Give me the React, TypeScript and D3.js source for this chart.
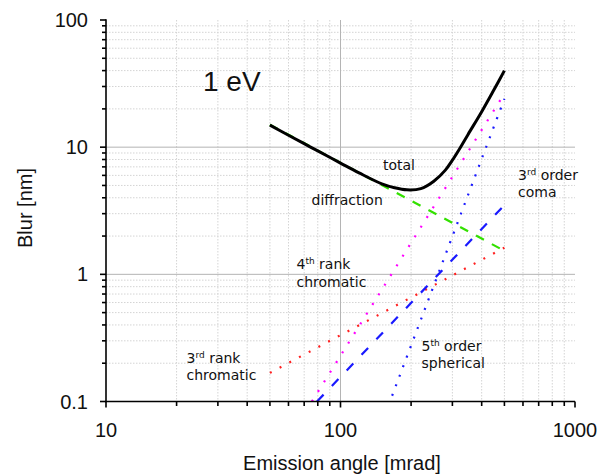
import React from "react";
import * as d3 from "d3";

// ---- data ----
const totalAngle = [50, 60, 70, 80, 100, 120, 150, 170, 192, 220, 250, 280, 300, 325, 350, 400, 450, 500];
const totalBlur = [14.9, 12.4, 10.65, 9.35, 7.5, 6.28, 5.15, 4.8, 4.62, 4.72, 5.4, 6.6, 7.9, 10, 12.6, 19, 28, 40];

const diffractionAngle = [50, 500];
const diffractionBlur = [15, 1.53];

const chrom3Angle = [50, 500];
const chrom3Blur = [0.168, 1.62];

const chrom4Angle = [75.5, 500];
const chrom4Blur = [0.1, 26.4];

const coma3Angle = [79.4, 500];
const coma3Blur = [0.1, 3.5];

const sph5Angle = [166, 500];
const sph5Blur = [0.111, 24];

const xTickValues = [10, 100, 1000];
const xTickLabels = ["10", "100", "1000"];
const yTickValues = [0.1, 1, 10, 100];
const yTickLabels = ["0.1", "1", "10", "100"];

const W = 601;
const H = 475;
const left = 106;
const right = 575;
const top = 20;
const bottom = 401.5;

export default function App() {
  const x = d3.scaleLog().domain([10, 1000]).range([left, right]);
  const y = d3.scaleLog().domain([0.1, 100]).range([bottom, top]);

  const minorX: number[] = [];
  for (const dec of [10, 100]) for (let k = 2; k <= 9; k++) minorX.push(dec * k);
  const minorY: number[] = [];
  for (const dec of [0.1, 1, 10]) for (let k = 2; k <= 9; k++) minorY.push(+(dec * k).toPrecision(3));

  const straight = d3
    .line<[number, number]>()
    .x((d) => x(d[0]))
    .y((d) => y(d[1]));
  const smooth = d3
    .line<[number, number]>()
    .x((d) => x(d[0]))
    .y((d) => y(d[1]))
    .curve(d3.curveCatmullRom.alpha(0.5));

  const pairs = (a: number[], b: number[]) => a.map((v, i) => [v, b[i]] as [number, number]);

  const annFont = "'DejaVu Sans', 'Open Sans', sans-serif";
  const axFont = "'Liberation Sans', Arial, sans-serif";

  const sup = (base: string, s: string, rest: string) => (
    <>
      {base}
      <tspan fontSize={9} dy={-5}>{s}</tspan>
      <tspan dy={5}>{rest}</tspan>
    </>
  );

  return (
    <svg
      width={W}
      height={H}
      style={{ position: "absolute", left: 0, top: 0, background: "#fff" }}
    >
      <defs>
        <clipPath id="plot">
          <rect x={left} y={top} width={right - left} height={bottom - top} />
        </clipPath>
      </defs>
      {/* minor grid */}
      <g stroke="#d4d4d4" strokeWidth={1} strokeDasharray="1.5,1.5">
        {minorX.map((v) => (
          <line key={"mx" + v} x1={x(v)} x2={x(v)} y1={top} y2={bottom} />
        ))}
        {minorY.map((v) => (
          <line key={"my" + v} x1={left} x2={right} y1={y(v)} y2={y(v)} />
        ))}
      </g>
      {/* major grid */}
      <g stroke="#b4b4b4" strokeWidth={1}>
        <line x1={x(100)} x2={x(100)} y1={top} y2={bottom} />
        <line x1={left} x2={right} y1={y(10)} y2={y(10)} />
        <line x1={left} x2={right} y1={y(1)} y2={y(1)} />
      </g>

      {/* series */}
      <g clipPath="url(#plot)" fill="none">
        <path d={straight(pairs(chrom3Angle, chrom3Blur))!} stroke="#ff2020" strokeWidth={2.2} strokeDasharray="2,9" />
        <path d={straight(pairs(chrom4Angle, chrom4Blur))!} stroke="#ff00ff" strokeWidth={2.2} strokeDasharray="2,9.4" />
        <path d={straight(pairs(coma3Angle, coma3Blur))!} stroke="#1a1aff" strokeWidth={2.2} strokeDasharray="9.5,12" />
        <path d={straight(pairs(sph5Angle, sph5Blur))!} stroke="#1a1aff" strokeWidth={2.2} strokeDasharray="2,8.2" />
        <path d={straight(pairs(diffractionAngle, diffractionBlur))!} stroke="#33e000" strokeWidth={2.2} strokeDasharray="9,9" />
        <path d={smooth(pairs(totalAngle, totalBlur))!} stroke="#000" strokeWidth={3} strokeLinecap="butt" strokeLinejoin="round" />
      </g>

      {/* axes */}
      <g stroke="#000" strokeWidth={1.6}>
        <line x1={left} x2={left} y1={top - 0.8} y2={bottom + 0.8} />
        <line x1={left - 0.8} x2={right} y1={bottom} y2={bottom} />
        {yTickValues.map((v) => (
          <line key={"yt" + v} x1={left - 6} x2={left} y1={y(v)} y2={y(v)} />
        ))}
        {minorY.map((v) => (
          <line key={"ymt" + v} x1={left - 4} x2={left} y1={y(v)} y2={y(v)} />
        ))}
        {xTickValues.map((v) => (
          <line key={"xt" + v} x1={x(v)} x2={x(v)} y1={bottom} y2={bottom + 6} />
        ))}
        {minorX.map((v) => (
          <line key={"xmt" + v} x1={x(v)} x2={x(v)} y1={bottom} y2={bottom + 4.5} />
        ))}
      </g>

      {/* tick labels */}
      <g fontFamily={axFont} fontSize={20} fill="#111">
        {yTickValues.map((v, i) => (
          <text key={"yl" + v} x={88} y={y(v) + 7} textAnchor="end">
            {yTickLabels[i]}
          </text>
        ))}
        {xTickValues.map((v, i) => (
          <text key={"xl" + v} x={x(v)} y={436.5} textAnchor="middle">
            {xTickLabels[i]}
          </text>
        ))}
        <text x={342} y={470} textAnchor="middle">Emission angle [mrad]</text>
        <text transform="translate(31.5,208) rotate(-90)" textAnchor="middle">Blur [nm]</text>
        <text x={203} y={91} fontSize={28}>1 eV</text>
      </g>

      {/* annotations */}
      <g fontFamily={annFont} fontSize={14} fill="#111">
        <text x={383} y={170}>total</text>
        <text x={311.5} y={204.5}>diffraction</text>
        <text x={518} y={179.5}>{sup("3", "rd", " order")}</text>
        <text x={518} y={196.5}>coma</text>
        <text x={296.5} y={269.3}>{sup("4", "th", " rank")}</text>
        <text x={296.5} y={286.7}>chromatic</text>
        <text x={186.5} y={363.3}>{sup("3", "rd", " rank")}</text>
        <text x={186.5} y={380.3}>chromatic</text>
        <text x={421.5} y={350.8}>{sup("5", "th", " order")}</text>
        <text x={421.5} y={367.8}>spherical</text>
      </g>
    </svg>
  );
}
